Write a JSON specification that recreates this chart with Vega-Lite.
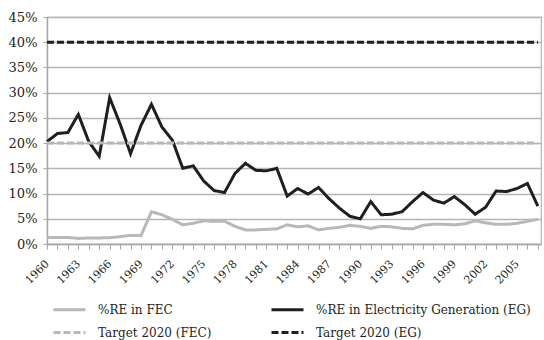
{
  "$schema": "https://vega.github.io/schema/vega-lite/v6.json",
  "width": 494,
  "height": 227,
  "autosize": "none",
  "padding": {"left": 47, "top": 17, "right": 3, "bottom": 96},
  "config": {
    "font": "DejaVu Serif",
    "view": {"stroke": "#b5b5b5", "strokeWidth": 1.2}
  },
  "data": {
    "values": [
      {"year": 1960, "series": "%RE in FEC", "value": 1.3},
      {"year": 1961, "series": "%RE in FEC", "value": 1.3},
      {"year": 1962, "series": "%RE in FEC", "value": 1.3},
      {"year": 1963, "series": "%RE in FEC", "value": 1.1},
      {"year": 1964, "series": "%RE in FEC", "value": 1.2},
      {"year": 1965, "series": "%RE in FEC", "value": 1.2},
      {"year": 1966, "series": "%RE in FEC", "value": 1.25},
      {"year": 1967, "series": "%RE in FEC", "value": 1.45},
      {"year": 1968, "series": "%RE in FEC", "value": 1.7},
      {"year": 1969, "series": "%RE in FEC", "value": 1.65},
      {"year": 1970, "series": "%RE in FEC", "value": 6.4},
      {"year": 1971, "series": "%RE in FEC", "value": 5.8},
      {"year": 1972, "series": "%RE in FEC", "value": 4.9},
      {"year": 1973, "series": "%RE in FEC", "value": 3.8},
      {"year": 1974, "series": "%RE in FEC", "value": 4.1},
      {"year": 1975, "series": "%RE in FEC", "value": 4.6},
      {"year": 1976, "series": "%RE in FEC", "value": 4.5},
      {"year": 1977, "series": "%RE in FEC", "value": 4.5},
      {"year": 1978, "series": "%RE in FEC", "value": 3.5},
      {"year": 1979, "series": "%RE in FEC", "value": 2.8},
      {"year": 1980, "series": "%RE in FEC", "value": 2.8},
      {"year": 1981, "series": "%RE in FEC", "value": 2.9},
      {"year": 1982, "series": "%RE in FEC", "value": 3.0},
      {"year": 1983, "series": "%RE in FEC", "value": 3.8},
      {"year": 1984, "series": "%RE in FEC", "value": 3.4},
      {"year": 1985, "series": "%RE in FEC", "value": 3.6},
      {"year": 1986, "series": "%RE in FEC", "value": 2.8},
      {"year": 1987, "series": "%RE in FEC", "value": 3.1},
      {"year": 1988, "series": "%RE in FEC", "value": 3.3},
      {"year": 1989, "series": "%RE in FEC", "value": 3.7},
      {"year": 1990, "series": "%RE in FEC", "value": 3.5},
      {"year": 1991, "series": "%RE in FEC", "value": 3.1},
      {"year": 1992, "series": "%RE in FEC", "value": 3.5},
      {"year": 1993, "series": "%RE in FEC", "value": 3.4},
      {"year": 1994, "series": "%RE in FEC", "value": 3.1},
      {"year": 1995, "series": "%RE in FEC", "value": 3.0},
      {"year": 1996, "series": "%RE in FEC", "value": 3.7},
      {"year": 1997, "series": "%RE in FEC", "value": 3.9},
      {"year": 1998, "series": "%RE in FEC", "value": 3.9},
      {"year": 1999, "series": "%RE in FEC", "value": 3.8},
      {"year": 2000, "series": "%RE in FEC", "value": 4.0},
      {"year": 2001, "series": "%RE in FEC", "value": 4.6},
      {"year": 2002, "series": "%RE in FEC", "value": 4.2},
      {"year": 2003, "series": "%RE in FEC", "value": 3.9},
      {"year": 2004, "series": "%RE in FEC", "value": 3.9},
      {"year": 2005, "series": "%RE in FEC", "value": 4.1},
      {"year": 2006, "series": "%RE in FEC", "value": 4.5},
      {"year": 2007, "series": "%RE in FEC", "value": 4.9},
      {"year": 1960, "series": "%RE in Electricity Generation (EG)", "value": 20.3},
      {"year": 1961, "series": "%RE in Electricity Generation (EG)", "value": 21.9},
      {"year": 1962, "series": "%RE in Electricity Generation (EG)", "value": 22.1},
      {"year": 1963, "series": "%RE in Electricity Generation (EG)", "value": 25.7},
      {"year": 1964, "series": "%RE in Electricity Generation (EG)", "value": 20.3},
      {"year": 1965, "series": "%RE in Electricity Generation (EG)", "value": 17.4},
      {"year": 1966, "series": "%RE in Electricity Generation (EG)", "value": 29.0},
      {"year": 1967, "series": "%RE in Electricity Generation (EG)", "value": 23.8},
      {"year": 1968, "series": "%RE in Electricity Generation (EG)", "value": 17.9},
      {"year": 1969, "series": "%RE in Electricity Generation (EG)", "value": 23.5},
      {"year": 1970, "series": "%RE in Electricity Generation (EG)", "value": 27.7},
      {"year": 1971, "series": "%RE in Electricity Generation (EG)", "value": 23.2},
      {"year": 1972, "series": "%RE in Electricity Generation (EG)", "value": 20.6},
      {"year": 1973, "series": "%RE in Electricity Generation (EG)", "value": 15.0},
      {"year": 1974, "series": "%RE in Electricity Generation (EG)", "value": 15.5},
      {"year": 1975, "series": "%RE in Electricity Generation (EG)", "value": 12.5},
      {"year": 1976, "series": "%RE in Electricity Generation (EG)", "value": 10.6},
      {"year": 1977, "series": "%RE in Electricity Generation (EG)", "value": 10.2},
      {"year": 1978, "series": "%RE in Electricity Generation (EG)", "value": 14.0},
      {"year": 1979, "series": "%RE in Electricity Generation (EG)", "value": 16.0},
      {"year": 1980, "series": "%RE in Electricity Generation (EG)", "value": 14.6},
      {"year": 1981, "series": "%RE in Electricity Generation (EG)", "value": 14.5},
      {"year": 1982, "series": "%RE in Electricity Generation (EG)", "value": 15.0},
      {"year": 1983, "series": "%RE in Electricity Generation (EG)", "value": 9.5},
      {"year": 1984, "series": "%RE in Electricity Generation (EG)", "value": 11.0},
      {"year": 1985, "series": "%RE in Electricity Generation (EG)", "value": 9.9},
      {"year": 1986, "series": "%RE in Electricity Generation (EG)", "value": 11.2},
      {"year": 1987, "series": "%RE in Electricity Generation (EG)", "value": 9.0},
      {"year": 1988, "series": "%RE in Electricity Generation (EG)", "value": 7.1},
      {"year": 1989, "series": "%RE in Electricity Generation (EG)", "value": 5.5},
      {"year": 1990, "series": "%RE in Electricity Generation (EG)", "value": 5.0},
      {"year": 1991, "series": "%RE in Electricity Generation (EG)", "value": 8.4},
      {"year": 1992, "series": "%RE in Electricity Generation (EG)", "value": 5.8},
      {"year": 1993, "series": "%RE in Electricity Generation (EG)", "value": 5.9},
      {"year": 1994, "series": "%RE in Electricity Generation (EG)", "value": 6.4},
      {"year": 1995, "series": "%RE in Electricity Generation (EG)", "value": 8.4},
      {"year": 1996, "series": "%RE in Electricity Generation (EG)", "value": 10.2},
      {"year": 1997, "series": "%RE in Electricity Generation (EG)", "value": 8.7},
      {"year": 1998, "series": "%RE in Electricity Generation (EG)", "value": 8.1},
      {"year": 1999, "series": "%RE in Electricity Generation (EG)", "value": 9.4},
      {"year": 2000, "series": "%RE in Electricity Generation (EG)", "value": 7.8},
      {"year": 2001, "series": "%RE in Electricity Generation (EG)", "value": 5.9},
      {"year": 2002, "series": "%RE in Electricity Generation (EG)", "value": 7.3},
      {"year": 2003, "series": "%RE in Electricity Generation (EG)", "value": 10.5},
      {"year": 2004, "series": "%RE in Electricity Generation (EG)", "value": 10.4},
      {"year": 2005, "series": "%RE in Electricity Generation (EG)", "value": 11.0},
      {"year": 2006, "series": "%RE in Electricity Generation (EG)", "value": 12.0},
      {"year": 2007, "series": "%RE in Electricity Generation (EG)", "value": 7.5},
      {"year": 1960, "series": "Target 2020 (FEC)", "value": 20},
      {"year": 2007, "series": "Target 2020 (FEC)", "value": 20},
      {"year": 1960, "series": "Target 2020 (EG)", "value": 40},
      {"year": 2007, "series": "Target 2020 (EG)", "value": 40}
    ]
  },
  "mark": {"type": "line", "strokeWidth": 3},
  "encoding": {
    "x": {
      "field": "year",
      "type": "quantitative",
      "scale": {"domain": [1960, 2007.3], "nice": false, "zero": false},
      "axis": {
        "title": null,
        "grid": false,
        "values": [1960,1961,1962,1963,1964,1965,1966,1967,1968,1969,1970,1971,1972,1973,1974,1975,1976,1977,1978,1979,1980,1981,1982,1983,1984,1985,1986,1987,1988,1989,1990,1991,1992,1993,1994,1995,1996,1997,1998,1999,2000,2001,2002,2003,2004,2005,2006,2007],
        "format": "d",
        "labelExpr": "(datum.value - 1960) % 3 == 0 ? datum.label : ''",
        "labelAngle": -45,
        "labelAlign": "right",
        "labelBaseline": "middle",
        "labelFont": "DejaVu Serif",
        "labelFontSize": 11,
        "labelColor": "#231f20",
        "labelPadding": 13,
        "labelFlush": false,
        "labelOverlap": false,
        "labelBound": false,
        "domainColor": "#a8a8a8",
        "domainWidth": 1.5,
        "tickColor": "#a8a8a8",
        "tickSize": 5,
        "tickWidth": 1
      }
    },
    "y": {
      "field": "value",
      "type": "quantitative",
      "scale": {"domain": [0, 45], "nice": false},
      "axis": {
        "title": null,
        "values": [0, 5, 10, 15, 20, 25, 30, 35, 40, 45],
        "labelExpr": "datum.value + '%'",
        "labelFont": "DejaVu Serif",
        "labelFontSize": 13,
        "labelColor": "#231f20",
        "labelPadding": 6,
        "grid": true,
        "gridColor": "#b5b5b5",
        "gridWidth": 1.3,
        "domainColor": "#a8a8a8",
        "domainWidth": 1.5,
        "tickColor": "#a8a8a8",
        "tickSize": 4
      }
    },
    "color": {
      "field": "series",
      "type": "nominal",
      "scale": {
        "domain": ["%RE in FEC", "Target 2020 (FEC)", "%RE in Electricity Generation (EG)", "Target 2020 (EG)"],
        "range": ["#b8b8b8", "#b8b8b8", "#1f1f1f", "#1f1f1f"]
      },
      "legend": {
        "title": null,
        "orient": "none",
        "legendX": 11,
        "legendY": 281,
        "columns": 2,
        "columnPadding": 53,
        "rowPadding": 5,
        "padding": 0,
        "symbolType": "M-1.6,0H1.6",
        "symbolSize": 400,
        "symbolStrokeWidth": 3,
        "labelFont": "DejaVu Serif",
        "labelFontSize": 12,
        "labelColor": "#231f20",
        "labelOffset": 17,
        "labelLimit": 400
      }
    },
    "strokeDash": {
      "field": "series",
      "type": "nominal",
      "scale": {
        "domain": ["%RE in FEC", "Target 2020 (FEC)", "%RE in Electricity Generation (EG)", "Target 2020 (EG)"],
        "range": [[1, 0], [7, 3], [1, 0], [7, 3]]
      }
    }
  }
}
